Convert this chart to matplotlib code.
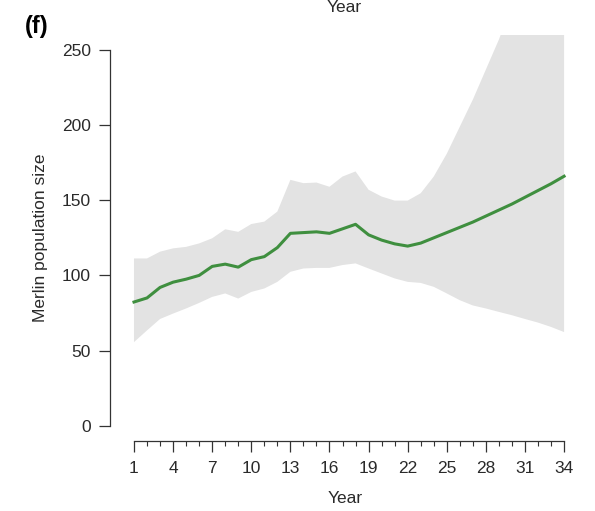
import numpy as np
import matplotlib.pyplot as plt

# Merlin population trajectory (median and credible band)
years = list(range(1, 35))
median = [82.3, 85, 92, 95.5, 97.5, 100, 106, 107.5, 105.5, 110.5,
          112.5, 118.5, 128, 128.5, 129, 128, 131, 134, 127, 123.5,
          121, 119.5, 121.5, 125, 128.5, 132, 135.5, 139.5, 143.5, 147.5,
          152, 156.5, 161, 166]
lower = [55.6, 63.4, 71, 74.6, 78, 81.7, 85.7, 88, 84.6, 89,
         91.3, 95.7, 102.4, 104.6, 105, 105, 106.9, 108, 104.6, 101.3,
         98, 95.7, 95, 92.4, 88, 83.5, 80, 78, 75.7, 73.5,
         71, 68.6, 65.7, 62.3]
upper = [111.3, 111.3, 115.8, 118, 119, 121.3, 124.7, 130.7, 129, 134.2,
         135.8, 142.5, 163.6, 161.4, 161.8, 159, 165.8, 169.2, 157, 152.5,
         149.8, 149.8, 154.7, 165.8, 181, 199, 217, 237, 257, 280,
         305, 335, 365, 400]

year_ticks = list(range(1, 35, 3))
pop_ticks = [0, 50, 100, 150, 200, 250]

plt.rcParams["font.family"] = ["Liberation Sans", "DejaVu Sans"]

fig = plt.figure(figsize=(5.95, 5.11), dpi=100)
ax = fig.add_axes([0.1849, 0.1376, 0.7916, 0.7939])

ax.fill_between(years, lower, upper, color="#e3e3e3", linewidth=0)
ax.plot(years, median, color="#3f8f3f", linewidth=2.2, solid_joinstyle="round")

ax.set_xlim(-0.84, 35.3)
ax.set_ylim(-10, 260)

for side in ["top", "right"]:
    ax.spines[side].set_visible(False)
ax.spines["left"].set_bounds(0, 250)
ax.spines["bottom"].set_bounds(1, 34)
for side in ["left", "bottom"]:
    ax.spines[side].set_color("#333333")
    ax.spines[side].set_linewidth(0.9)

ax.set_yticks(pop_ticks)
ax.set_xticks(year_ticks)
ax.set_xticks(years, minor=True)
ax.tick_params(axis="both", which="major", length=7.7, width=0.9,
               color="#333333", labelsize=12.5, labelcolor="#2a2a2a")
ax.tick_params(axis="y", pad=6)
ax.tick_params(axis="x", pad=7)
ax.tick_params(axis="x", which="minor", length=3.6, width=0.8, color="#333333")

ax.set_ylabel("Merlin population size", fontsize=12.5, color="#2a2a2a", labelpad=10)
ax.set_xlabel("Year", fontsize=12.5, color="#2a2a2a", labelpad=11)

fig.text(0.042, 0.948, "(f)", fontsize=17, fontweight="bold", va="center", ha="left")
fig.text(0.578, 0.986, "Year", fontsize=12.5, color="#2a2a2a", va="center", ha="center")

fig.savefig("out.png", dpi=100)
